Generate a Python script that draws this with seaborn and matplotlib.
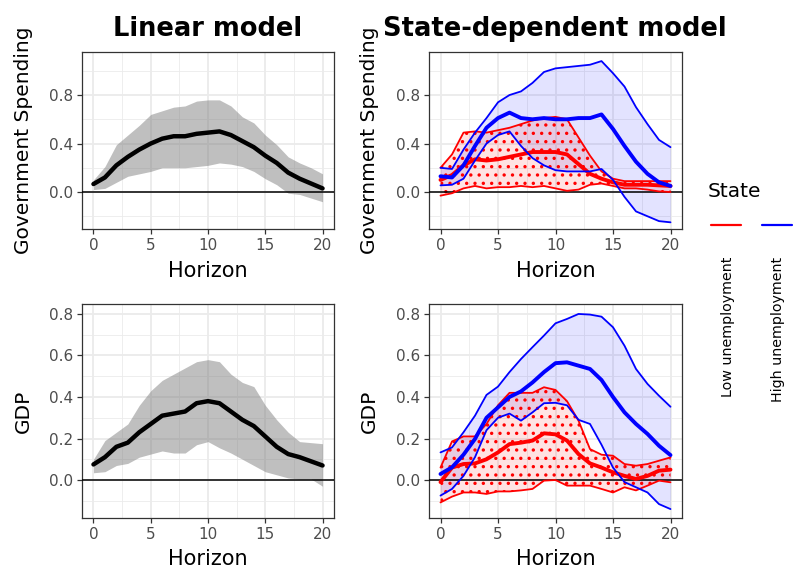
import numpy as np
import pandas as pd
import seaborn as sns
import matplotlib.pyplot as plt
from matplotlib.lines import Line2D
from matplotlib.ticker import MultipleLocator, FormatStrFormatter

horizon = list(range(21))

# linear model, government spending
lin_gs_mean = [0.066, 0.12, 0.22, 0.29, 0.35, 0.40, 0.44, 0.46, 0.46, 0.48, 0.49,
               0.50, 0.47, 0.42, 0.37, 0.30, 0.24, 0.16, 0.11, 0.07, 0.03]
lin_gs_hi = [0.10, 0.21, 0.39, 0.47, 0.55, 0.64, 0.67, 0.70, 0.71, 0.75, 0.76,
             0.76, 0.71, 0.62, 0.57, 0.47, 0.39, 0.29, 0.24, 0.20, 0.15]
lin_gs_lo = [0.02, 0.03, 0.08, 0.13, 0.15, 0.17, 0.20, 0.20, 0.20, 0.21, 0.22,
             0.24, 0.23, 0.21, 0.17, 0.11, 0.06, -0.01, -0.02, -0.05, -0.08]

# linear model, GDP
lin_gdp_mean = [0.075, 0.11, 0.16, 0.18, 0.23, 0.27, 0.31, 0.32, 0.33, 0.37, 0.38,
                0.37, 0.33, 0.29, 0.26, 0.21, 0.16, 0.125, 0.11, 0.09, 0.07]
lin_gdp_hi = [0.10, 0.19, 0.23, 0.27, 0.36, 0.43, 0.48, 0.51, 0.54, 0.57, 0.58,
              0.57, 0.51, 0.47, 0.45, 0.36, 0.29, 0.23, 0.185, 0.18, 0.175]
lin_gdp_lo = [0.035, 0.04, 0.07, 0.08, 0.11, 0.125, 0.14, 0.13, 0.13, 0.17, 0.185,
              0.155, 0.13, 0.10, 0.07, 0.04, 0.025, 0.01, 0.005, 0.005, -0.03]

# state-dependent, government spending
gs_low_mean = [0.10, 0.14, 0.22, 0.27, 0.26, 0.27, 0.29, 0.31, 0.33, 0.33, 0.33,
               0.31, 0.23, 0.15, 0.11, 0.08, 0.06, 0.06, 0.06, 0.055, 0.05]
gs_low_hi = [0.20, 0.31, 0.49, 0.50, 0.49, 0.51, 0.53, 0.56, 0.59, 0.61, 0.62,
             0.60, 0.45, 0.30, 0.17, 0.11, 0.09, 0.09, 0.09, 0.09, 0.09]
gs_low_lo = [-0.03, -0.01, 0.03, 0.05, 0.03, 0.04, 0.04, 0.05, 0.04, 0.05, 0.03,
             0.01, 0.02, 0.06, 0.07, 0.05, 0.03, 0.03, 0.02, 0.005, 0.0]
gs_high_mean = [0.13, 0.12, 0.22, 0.38, 0.53, 0.61, 0.655, 0.61, 0.60, 0.61, 0.60,
                0.60, 0.61, 0.61, 0.64, 0.52, 0.38, 0.25, 0.15, 0.08, 0.05]
gs_high_hi = [0.20, 0.19, 0.35, 0.49, 0.61, 0.74, 0.80, 0.83, 0.90, 0.99, 1.02,
              1.03, 1.04, 1.05, 1.08, 0.98, 0.87, 0.70, 0.56, 0.43, 0.37]
gs_high_lo = [0.055, 0.06, 0.11, 0.26, 0.40, 0.47, 0.50, 0.38, 0.28, 0.22, 0.18,
              0.17, 0.17, 0.17, 0.19, 0.10, -0.04, -0.16, -0.20, -0.24, -0.25]

# state-dependent, GDP
gdp_low_mean = [-0.01, 0.06, 0.077, 0.08, 0.10, 0.133, 0.173, 0.18, 0.19, 0.225, 0.22,
                0.19, 0.125, 0.08, 0.06, 0.037, 0.02, 0.005, 0.02, 0.045, 0.05]
gdp_low_hi = [0.06, 0.186, 0.21, 0.21, 0.27, 0.36, 0.42, 0.42, 0.42, 0.447, 0.434,
              0.38, 0.286, 0.149, 0.122, 0.117, 0.077, 0.069, 0.077, 0.093, 0.109]
gdp_low_lo = [-0.108, -0.08, -0.06, -0.06, -0.067, -0.055, -0.055, -0.05, -0.043, -0.003, 0.0,
              -0.027, -0.027, -0.027, -0.043, -0.06, -0.035, -0.05, -0.027, -0.003, -0.011]
gdp_high_mean = [0.029, 0.061, 0.122, 0.198, 0.30, 0.35, 0.40, 0.427, 0.47, 0.52, 0.563,
                 0.567, 0.551, 0.535, 0.482, 0.40, 0.326, 0.27, 0.222, 0.165, 0.12]
gdp_high_hi = [0.133, 0.157, 0.23, 0.31, 0.41, 0.45, 0.52, 0.583, 0.64, 0.696, 0.755,
               0.776, 0.80, 0.797, 0.787, 0.736, 0.647, 0.535, 0.463, 0.406, 0.353]
gdp_high_lo = [-0.075, -0.043, 0.02, 0.11, 0.24, 0.30, 0.32, 0.286, 0.326, 0.37, 0.372,
               0.36, 0.29, 0.27, 0.17, 0.06, -0.01, -0.035, -0.06, -0.116, -0.14]

state_labels = ['Low unemployment', 'High unemployment']

sns.set_style('white')
plt.rcParams['font.family'] = ['DejaVu Sans']
plt.rcParams['text.color'] = 'black'
plt.rcParams['axes.labelcolor'] = 'black'
plt.rcParams['hatch.linewidth'] = 1.2

RED = '#FF0000'
BLUE = '#0000FF'
W, H = 793, 568

fig = plt.figure(figsize=(W / 100, H / 100), dpi=100)


def add_panel(left, top, right, bottom):
    return fig.add_axes([left / W, 1 - bottom / H, (right - left) / W, (bottom - top) / H])


def style_panel(ax, ylim, major, ylabel, xlab_y):
    ax.set_xlim(-1, 21)
    ax.set_ylim(*ylim)
    ax.xaxis.set_major_locator(MultipleLocator(5))
    ax.xaxis.set_minor_locator(MultipleLocator(2.5))
    ax.yaxis.set_major_locator(MultipleLocator(major))
    ax.yaxis.set_minor_locator(MultipleLocator(major / 2))
    ax.yaxis.set_major_formatter(FormatStrFormatter('%.1f'))
    ax.grid(which='major', color='#EBEBEB', lw=1.3)
    ax.grid(which='minor', color='#EBEBEB', lw=0.6)
    ax.set_axisbelow(True)
    for s in ax.spines.values():
        s.set_color('#333333')
        s.set_linewidth(0.9)
    ax.tick_params(which='major', direction='out', length=3.5, width=0.9,
                   color='#333333', labelcolor='#4D4D4D', labelsize=11, pad=3,
                   left=True, bottom=True)
    ax.tick_params(which='minor', length=0)
    ax.axhline(0, color='black', lw=1.1, zorder=3)
    ax.set_xlabel('Horizon', fontsize=15, va='center')
    ax.set_ylabel(ylabel, fontsize=14.5, va='center')
    ax.xaxis.set_label_coords(0.5, xlab_y)
    ax.yaxis.set_label_coords(-0.234, 0.5)


def linear_panel(ax, mean, lo, hi):
    ax.fill_between(horizon, lo, hi, color='grey', alpha=0.5, lw=0, zorder=2)
    sns.lineplot(x=horizon, y=mean, ax=ax, color='black', lw=3.2, zorder=4)


def state_panel(ax, low, high):
    (l_mean, l_lo, l_hi), (h_mean, h_lo, h_hi) = low, high
    ax.fill_between(horizon, h_lo, h_hi, facecolor=(0, 0, 1, 0.11), lw=0, zorder=2)
    ax.fill_between(horizon, l_lo, l_hi, facecolor=(1, 0, 0, 0.11), edgecolor=RED,
                    hatch='..', lw=0, zorder=2)
    for vals, w in [(l_lo, 1.3), (l_hi, 1.3), (l_mean, 2.8)]:
        sns.lineplot(x=horizon, y=vals, ax=ax, color=RED, lw=w, zorder=4)
    for vals, w in [(h_lo, 1.3), (h_hi, 1.3), (h_mean, 2.8)]:
        sns.lineplot(x=horizon, y=vals, ax=ax, color=BLUE, lw=w, zorder=5)


ax_tl = add_panel(82, 52, 334, 229)
ax_tr = add_panel(429, 52, 682, 229)
ax_bl = add_panel(82, 304, 334, 518)
ax_br = add_panel(429, 304, 682, 518)

linear_panel(ax_tl, lin_gs_mean, lin_gs_lo, lin_gs_hi)
linear_panel(ax_bl, lin_gdp_mean, lin_gdp_lo, lin_gdp_hi)
state_panel(ax_tr, (gs_low_mean, gs_low_lo, gs_low_hi), (gs_high_mean, gs_high_lo, gs_high_hi))
state_panel(ax_br, (gdp_low_mean, gdp_low_lo, gdp_low_hi), (gdp_high_mean, gdp_high_lo, gdp_high_hi))

top_ylim = (-0.305, 1.155)
bot_ylim = (-0.183, 0.848)
style_panel(ax_tl, top_ylim, 0.4, 'Government Spending', -0.237)
style_panel(ax_tr, top_ylim, 0.4, 'Government Spending', -0.237)
style_panel(ax_bl, bot_ylim, 0.2, 'GDP', -0.19)
style_panel(ax_br, bot_ylim, 0.2, 'GDP', -0.19)

fig.text(208 / W, 1 - 36 / H, 'Linear model', ha='center', va='baseline',
         fontsize=18.5, fontweight='bold')
fig.text(555 / W, 1 - 36 / H, 'State-dependent model', ha='center', va='baseline',
         fontsize=18.5, fontweight='bold')

# legend drawn by hand: keys side by side, labels rotated below
fig.text(708 / W, 1 - 197 / H, 'State', ha='left', va='baseline', fontsize=14.5)
for (x0, x1), col, lab, xc in [((711, 741), RED, state_labels[0], 728),
                               ((762, 792), BLUE, state_labels[1], 778)]:
    fig.add_artist(Line2D([x0 / W, x1 / W], [1 - 225 / H, 1 - 225 / H],
                          color=col, lw=1.6, transform=fig.transFigure))
    fig.text(xc / W, 1 - 257 / H, lab, rotation=90, ha='center', va='top', fontsize=10.3)

fig.savefig('out.png', dpi=100)
